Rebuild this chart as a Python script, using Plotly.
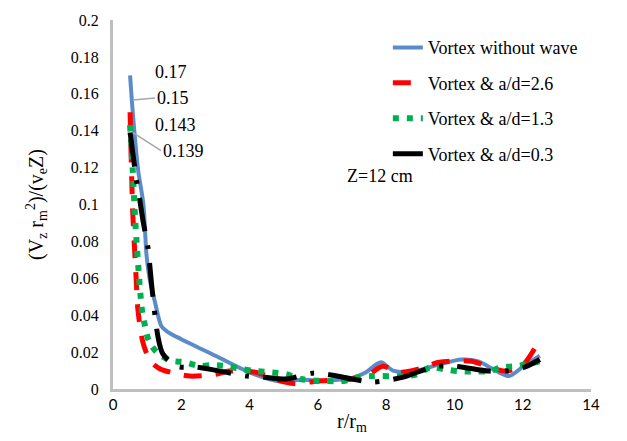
import plotly.graph_objects as go

# ---- data ----
r_blue = [0.5, 0.6, 0.74, 0.89, 0.98, 1.08, 1.23, 1.42, 1.6, 2.0, 3.0, 4.0, 4.9, 5.5, 6.2, 7.0, 7.4, 7.85, 8.2, 8.8, 9.5, 10.2, 10.7, 11.2, 11.6, 12.0, 12.5]
v_blue = [0.17, 0.145, 0.118, 0.100, 0.073, 0.059, 0.047, 0.034, 0.031, 0.027, 0.018, 0.009, 0.004, 0.005, 0.0045, 0.006, 0.009, 0.0145, 0.0100, 0.0095, 0.013, 0.016, 0.015, 0.010, 0.007, 0.012, 0.018]

r_red = [0.5, 0.55, 0.58, 0.64, 0.68, 0.73, 0.88, 1.1, 1.37, 1.7, 2.25, 3.0, 3.4, 4.2, 4.8, 5.3, 6.1, 7.0, 7.5, 7.9, 8.4, 9.0, 9.55, 10.5, 11.0, 11.5, 12.0, 12.5]
v_red = [0.15, 0.113, 0.095, 0.073, 0.059, 0.043, 0.025, 0.015, 0.011, 0.009, 0.007, 0.008, 0.0097, 0.009, 0.005, 0.003, 0.0045, 0.0054, 0.008, 0.0123, 0.009, 0.011, 0.0145, 0.015, 0.012, 0.0097, 0.013, 0.027]

r_green = [0.5, 0.58, 0.64, 0.69, 0.75, 0.8, 0.86, 0.94, 1.05, 1.28, 1.67, 2.1, 2.54, 2.93, 3.37, 3.8, 4.2, 4.64, 5.08, 5.5, 5.95, 6.8, 7.2, 7.6, 8.5, 8.9, 9.3, 9.7, 10.1, 10.5, 11.0, 11.4, 11.8, 12.1, 12.5]
v_green = [0.143, 0.118, 0.095, 0.08, 0.064, 0.052, 0.041, 0.034, 0.026, 0.02, 0.0155, 0.0145, 0.0125, 0.013, 0.0123, 0.0107, 0.0097, 0.009, 0.008, 0.0054, 0.0045, 0.0045, 0.0064, 0.007, 0.007, 0.008, 0.0118, 0.0107, 0.0097, 0.0095, 0.0097, 0.0118, 0.0123, 0.0134, 0.015]

r_black = [0.5, 0.69, 0.78, 0.88, 1.02, 1.14, 1.32, 1.46, 1.87, 2.46, 3.33, 3.92, 4.44, 5.08, 5.85, 6.43, 7.0, 7.6, 8.5, 9.0, 9.5, 10.05, 11.0, 11.5, 12.05, 12.5]
v_black = [0.139, 0.113, 0.103, 0.091, 0.077, 0.055, 0.028, 0.019, 0.0123, 0.0118, 0.009, 0.007, 0.0064, 0.0054, 0.0086, 0.0075, 0.0054, 0.0038, 0.0064, 0.0097, 0.0123, 0.0123, 0.0097, 0.0097, 0.0118, 0.016]

series_names = ["Vortex without wave", "Vortex & a/d=2.6", "Vortex & a/d=1.3", "Vortex & a/d=0.3"]

y_tickvals = [0, 0.02, 0.04, 0.06, 0.08, 0.1, 0.12, 0.14, 0.16, 0.18, 0.2]
y_ticktext = ["0", "0.02", "0.04", "0.06", "0.08", "0.1", "0.12", "0.14", "0.16", "0.18", "0.2"]
x_tickvals = [0, 2, 4, 6, 8, 10, 12, 14]
x_ticktext = ["0", "2", "4", "6", "8", "10", "12", "14"]

SERIF = "Liberation Serif"
SANS = "Lato"

fig = go.Figure()
styles = [
    dict(color="#5b8bc9", width=4, dash="solid"),
    dict(color="#ff0000", width=5, dash="18px,14px"),
    dict(color="#00b050", width=6, dash="6px,8px"),
    dict(color="#000000", width=5, dash="34px,14px,4px,14px"),
]
data = [(r_blue, v_blue), (r_red, v_red), (r_green, v_green), (r_black, v_black)]
for i, ((xs, ys), name, st) in enumerate(zip(data, series_names, styles)):
    fig.add_trace(go.Scatter(
        x=xs, y=ys, name=name, mode="lines",
        line=dict(color=st["color"], width=st["width"], dash=st["dash"], shape="spline", smoothing=0.8),
        legendgroup=f"g{i}",
    ))

lab_font = dict(family=SERIF, size=18, color="#000")
# first-point data labels
fig.add_annotation(x=1.17, y=0.1716, text=str(v_blue[0]), showarrow=False, xanchor="left", font=lab_font)
fig.add_annotation(x=0.585, y=0.1566, ax=22, ay=-2, text=str(v_red[0]), showarrow=True,
                   arrowhead=0, arrowwidth=1.5, arrowcolor="#a6a6a6", xanchor="left", font=lab_font)
fig.add_annotation(x=1.17, y=0.143, text=str(v_green[0]), showarrow=False, xanchor="left", font=lab_font)
fig.add_annotation(x=0.585, y=0.139, ax=28, ay=18, text=str(v_black[0]), showarrow=True,
                   arrowhead=0, arrowwidth=1.5, arrowcolor="#a6a6a6", xanchor="left", font=lab_font)

fig.add_annotation(xref="paper", yref="paper", x=0.485, y=0.576, text="Z=12 cm", showarrow=False,
                   xanchor="left", font=lab_font)

fig.update_layout(
    width=627, height=441,
    margin=dict(l=113, r=36, t=17, b=51),
    paper_bgcolor="white", plot_bgcolor="white",
    font=dict(family=SERIF, color="#000"),
    legend=dict(x=0.575, y=0.975, xanchor="left", yanchor="top", bgcolor="rgba(0,0,0,0)",
                font=dict(family=SERIF, size=18, color="#000"), tracegroupgap=9),
    showlegend=True,
)
fig.update_xaxes(range=[0, 14], tickvals=x_tickvals, ticktext=x_ticktext, showgrid=False, zeroline=False,
                 showline=True, linecolor="#bfbfbf", linewidth=3, ticks="",
                 tickfont=dict(family=SANS, size=15, color="#000"),
                 title=dict(text="r/r<sub>m</sub>", font=dict(family=SERIF, size=20, color="#000"), standoff=2))
fig.update_yaxes(range=[0, 0.2], tickvals=y_tickvals, ticktext=y_ticktext, showgrid=False, zeroline=False,
                 showline=True, linecolor="#bfbfbf", linewidth=3, ticks="",
                 tickfont=dict(family=SERIF, size=16, color="#000"), ticklabelstandoff=8,
                 title=dict(text="(V<sub>z</sub> r<sub>m</sub><sup>2</sup>)/(v<sub>e</sub>Z)",
                            font=dict(family=SERIF, size=20, color="#000"), standoff=22))

fig.write_html("out.html")
